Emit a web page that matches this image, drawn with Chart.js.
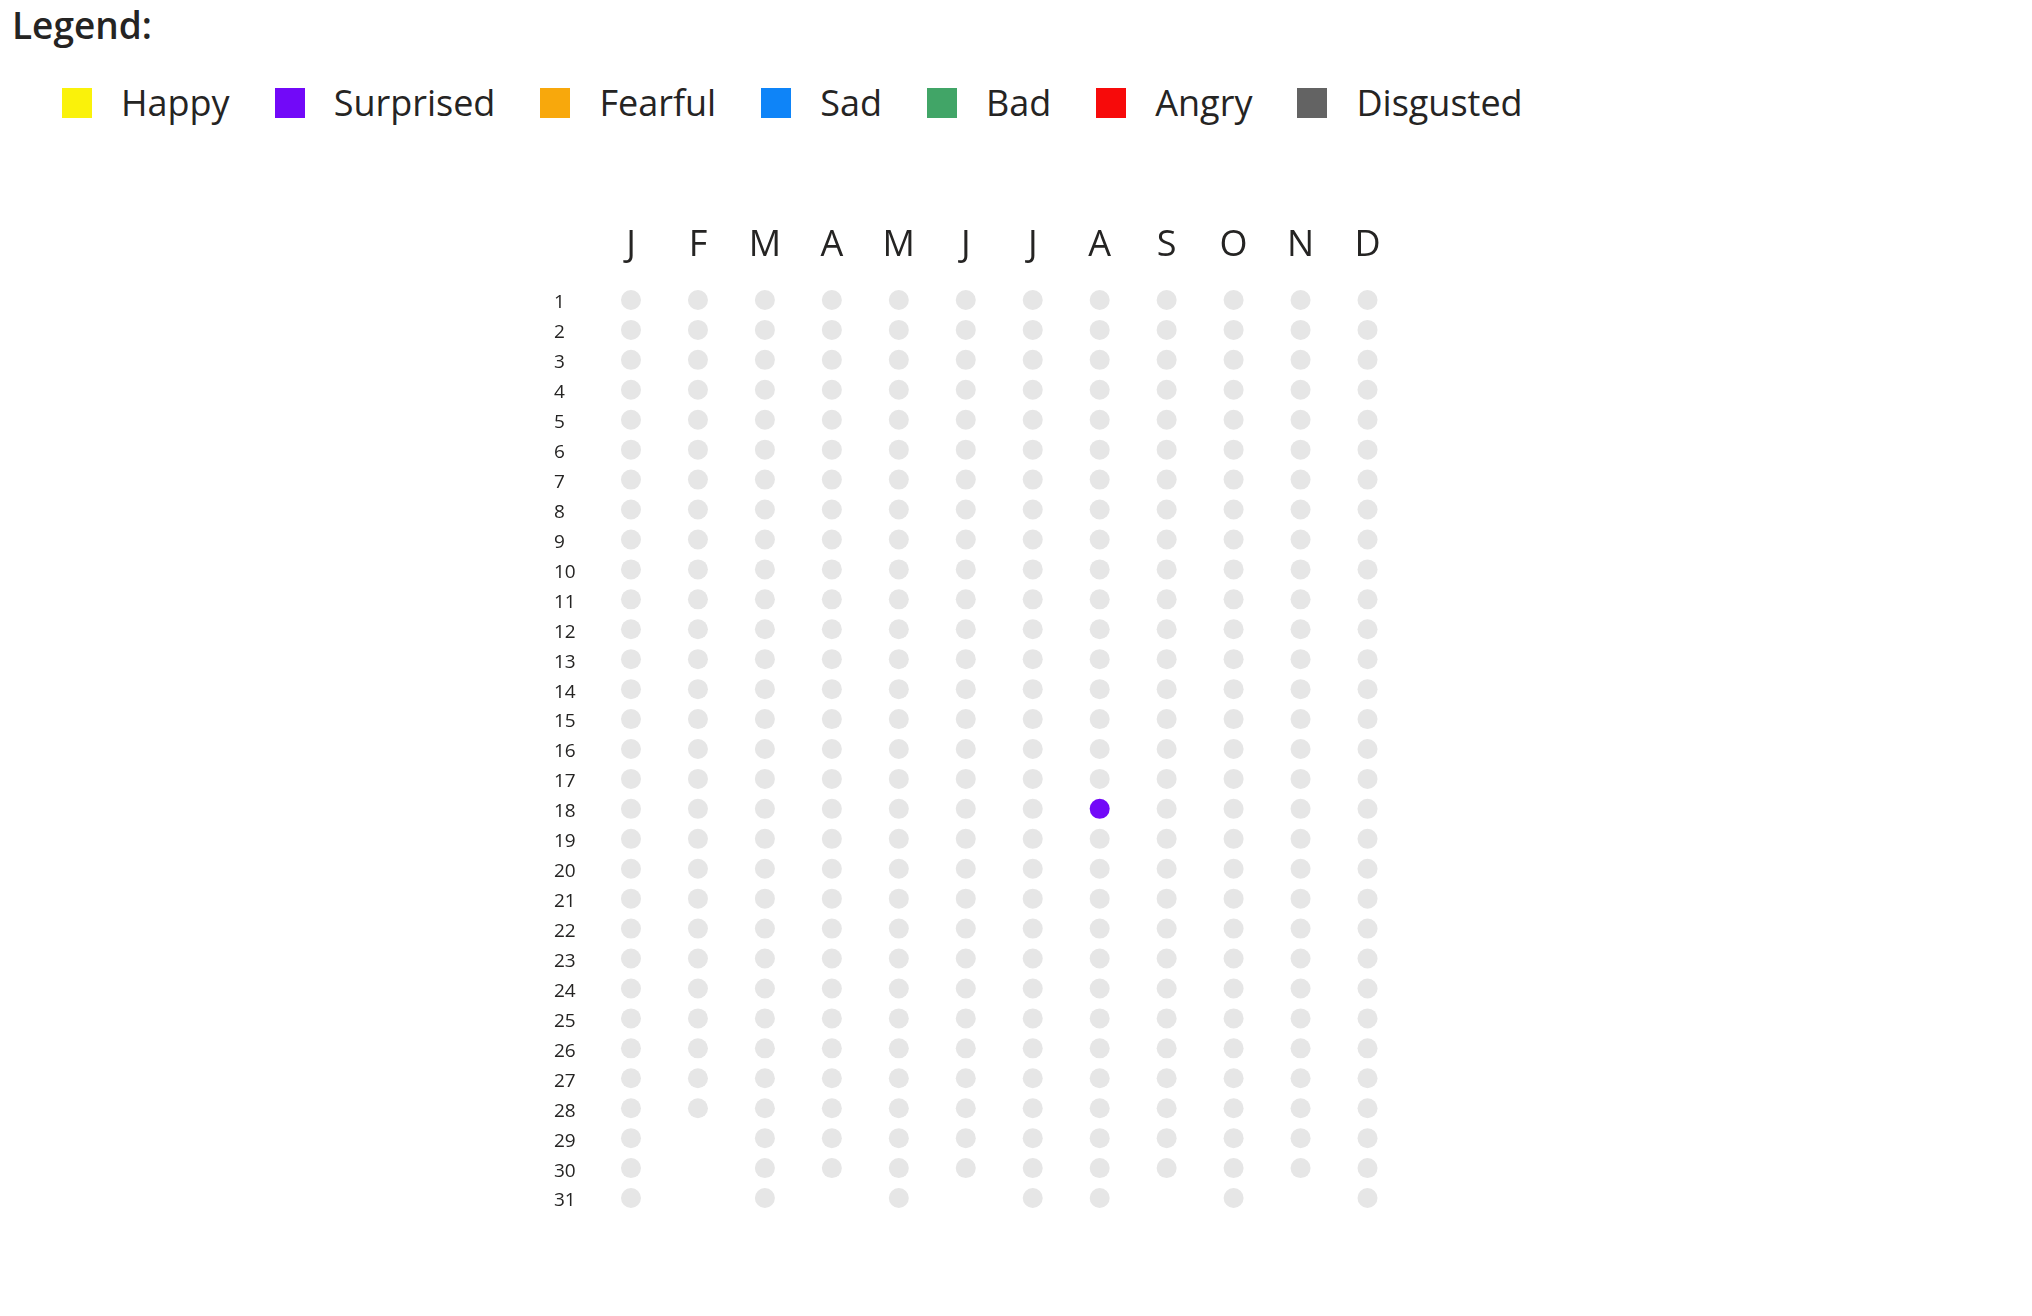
<!DOCTYPE html>
<html>
<head>
<meta charset="utf-8">
<script src="https://cdn.jsdelivr.net/npm/chart.js@4.4.1/dist/chart.umd.min.js"></script>
<style>
  html, body { margin: 0; padding: 0; background: #ffffff; width: 2032px; height: 1316px; overflow: hidden; }
  body { font-family: "Open Sans", "Noto Sans", sans-serif; color: #252423; position: relative; }
  #legendTitle { position: absolute; left: 12px; top: 0px; font-size: 37px; font-weight: 600; line-height: 50px; color: #252423; }
  #legend { position: absolute; left: 62px; top: 80px; display: flex; align-items: center; height: 46px; }
  .item { display: flex; align-items: center; margin-right: 45px; }
  .box { width: 30px; height: 30px; margin-right: 29px; }
  .lbl { font-size: 36px; line-height: 46px; color: #252423; white-space: nowrap; }
  #wrap { position: absolute; left: 0; top: 0; width: 2032px; height: 1316px; }
</style>
</head>
<body>
<div id="legendTitle">Legend:</div>
<div id="legend"></div>
<div id="wrap"><canvas id="c" width="2032" height="1316"></canvas></div>
<script>
// ---- data ----
const months = ['J','F','M','A','M','J','J','A','S','O','N','D'];
const daysInMonth = [31,28,31,30,31,30,31,31,30,31,30,31];
const days = [1,2,3,4,5,6,7,8,9,10,11,12,13,14,15,16,17,18,19,20,21,22,23,24,25,26,27,28,29,30,31];
const emotions = ['Happy','Surprised','Fearful','Sad','Bad','Angry','Disgusted'];
const emotionColors = ['#FAF20A','#7209F8','#F8A80C','#0E84F8','#41A567','#F70A0A','#636363'];
// recorded mood entries (month index, day, emotion)
const entryMonths = [7];
const entryDays = [18];
const entryEmotions = ['Surprised'];
const emptyColor = '#E6E6E6';

// ---- HTML legend built from the emotion arrays ----
const legendEl = document.getElementById('legend');
emotions.forEach((name, i) => {
  const it = document.createElement('div'); it.className = 'item';
  const b = document.createElement('div'); b.className = 'box'; b.style.background = emotionColors[i];
  const t = document.createElement('span'); t.className = 'lbl'; t.textContent = name;
  it.appendChild(b); it.appendChild(t); legendEl.appendChild(it);
});

// ---- datasets ----
const isEntry = (m, d) => entryMonths.some((em, k) => em === m && entryDays[k] === d);
const emptyPoints = [];
months.forEach((_, m) => {
  days.forEach(d => { if (d <= daysInMonth[m] && !isEntry(m, d)) emptyPoints.push({x: m, y: d}); });
});
const datasets = [{
  label: 'No entry', data: emptyPoints,
  backgroundColor: emptyColor, borderWidth: 0, pointRadius: 10, pointHoverRadius: 10
}];
emotions.forEach((name, i) => {
  const pts = [];
  entryEmotions.forEach((e, k) => { if (e === name) pts.push({x: entryMonths[k], y: entryDays[k]}); });
  datasets.push({ label: name, data: pts, backgroundColor: emotionColors[i], borderWidth: 0, pointRadius: 10, pointHoverRadius: 10 });
});

new Chart(document.getElementById('c'), {
  type: 'scatter',
  data: { datasets },
  options: {
    responsive: false,
    animation: false,
    events: [],
    layout: { padding: { left: 554, top: 200, right: 631, bottom: 103 } },
    plugins: { legend: { display: false }, tooltip: { enabled: false } },
    scales: {
      x: {
        type: 'linear', position: 'top', min: -0.5, max: 11.5,
        grid: { display: false, drawTicks: false }, border: { display: false },
        afterBuildTicks: s => { s.ticks = months.map((_, i) => ({ value: i })); },
        afterFit: s => { s.height = 85; },
        ticks: { callback: v => months[v], padding: 18, color: '#252423',
                 font: { family: '"Open Sans", "Noto Sans", sans-serif', size: 36 }, maxRotation: 0, autoSkip: false }
      },
      y: {
        type: 'linear', position: 'left', min: 0.5, max: 31.5, reverse: true,
        grid: { display: false, drawTicks: false }, border: { display: false },
        afterBuildTicks: s => { s.ticks = days.map(d => ({ value: d })); },
        afterFit: s => { s.width = 43.5; },
        ticks: { callback: v => String(v), crossAlign: 'far', padding: 0, labelOffset: 3, color: '#252423', autoSkip: false,
                 font: { family: '"Open Sans", "Noto Sans", sans-serif', size: 19 } }
      }
    }
  }
});
</script>
</body>
</html>
